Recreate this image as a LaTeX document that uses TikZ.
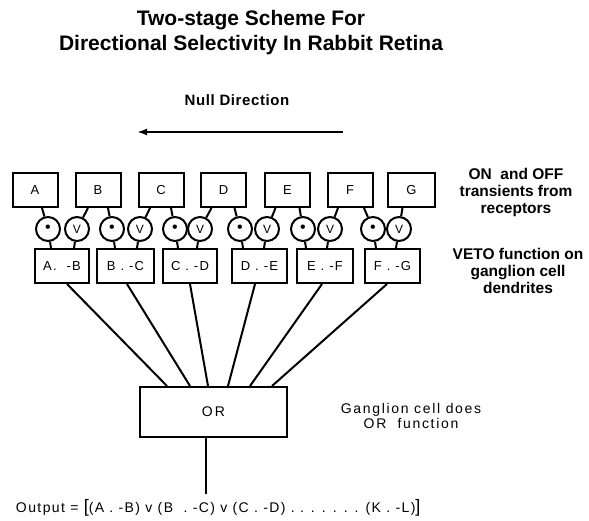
\documentclass[tikz,border=0pt]{standalone}
\usepackage{fontspec}
\setmainfont{Liberation Sans}
\usetikzlibrary{arrows.meta}
\begin{document}
\begin{tikzpicture}[x=1pt,y=-1pt,line width=2pt,
  topbox/.style={draw,line width=2pt,minimum width=45pt,minimum height=34pt,inner sep=0pt,font=\fontsize{13}{13}\selectfont},
  gate/.style={draw,line width=2pt,circle,minimum size=24pt,inner sep=0pt,font=\fontsize{12}{12}\selectfont},
  vetobox/.style={draw,line width=2pt,minimum width=55pt,minimum height=34pt,inner sep=0pt,font=\fontsize{13}{13}\selectfont\addfontfeature{LetterSpace=10}},
  orbox/.style={draw,line width=2pt,minimum width=147pt,minimum height=50pt,inner sep=0pt,font=\fontsize{14}{14}\selectfont\addfontfeature{LetterSpace=15}},
  lbl/.style={align=center,inner sep=0pt},
  wire/.style={line width=2pt}]
\useasboundingbox (0,0) rectangle (589,520);

% title
\node[lbl,font=\fontsize{21}{25}\selectfont\bfseries] (title) at (251,33)
  {Two-stage Scheme For\\Directional Selectivity In Rabbit Retina};

% null direction
\node[lbl,font=\fontsize{15}{15}\selectfont\bfseries\addfontfeature{LetterSpace=4}] (null) at (237,100) {Null Direction};
\coordinate (nr) at (343,132);
\coordinate (nl) at (137,132);
\draw[line width=2pt,-{Latex[length=10pt,width=7pt]}] (nr) -- (nl);

% top boxes
\node[topbox] (A) at (35,190) {A};
\node[topbox] (B) at (98,190) {B};
\node[topbox] (C) at (161,190) {C};
\node[topbox] (D) at (223.5,190) {D};
\node[topbox] (E) at (287.5,190) {E};
\node[topbox] (F) at (350,190) {F};
\node[topbox,minimum width=47pt] (G) at (411.5,190) {G};

% gates
\foreach \n/\dx/\vx in {1/48/77,2/112/140,3/175/200,4/240/267,5/303/330,6/373/399}{
  \node[gate] (d\n) at (\dx,229) {{\fontsize{16}{16}\selectfont\textbullet}};
  \node[gate] (v\n) at (\vx,229) {V};
}

% veto boxes
\node[vetobox,minimum width=54pt] (AB) at (62,266) {A.\ \ -B};
\node[vetobox,minimum width=57pt] (BC) at (125.5,266) {B . -C};
\node[vetobox,minimum width=54pt] (CD) at (190,266) {C . -D};
\node[vetobox] (DE) at (259.5,266) {D . -E};
\node[vetobox,minimum width=56pt] (EF) at (325,266) {E . -F};
\node[vetobox] (FG) at (392.5,266) {F . -G};

% top box to gates
\draw[wire] ([xshift=7pt]A.south) -- (d1);
\draw[wire] ([xshift=-10pt]B.south) -- (v1);
\draw[wire] ([xshift=10pt]B.south) -- (d2);
\draw[wire] ([xshift=-11pt]C.south) -- (v2);
\draw[wire] ([xshift=10pt]C.south) -- (d3);
\draw[wire] ([xshift=-12pt]D.south) -- (v3);
\draw[wire] ([xshift=11pt]D.south) -- (d4);
\draw[wire] ([xshift=-12pt]E.south) -- (v4);
\draw[wire] ([xshift=12pt]E.south) -- (d5);
\draw[wire] ([xshift=-12pt]F.south) -- (v5);
\draw[wire] ([xshift=14pt]F.south) -- (d6);
\draw[wire] ([xshift=-9pt]G.south) -- (v6);

% gates to veto boxes
\foreach \n/\b in {1/AB,2/BC,3/CD,4/DE,5/EF,6/FG}{
  \draw[wire] (d\n) -- ([xshift=3pt]d\n.center |- \b.north);
  \draw[wire] (v\n) -- ([xshift=-3pt]v\n.center |- \b.north);
}

% OR box
\node[orbox] (OR) at (213.5,412) {OR};

\draw[wire] ([xshift=5pt]AB.south) -- ([xshift=-46.5pt]OR.north);
\draw[wire] ([xshift=1.5pt]BC.south) -- ([xshift=-23.5pt]OR.north);
\draw[wire] ([xshift=0pt]CD.south) -- ([xshift=-5.5pt]OR.north);
\draw[wire] ([xshift=-4.5pt]DE.south) -- ([xshift=14.5pt]OR.north);
\draw[wire] ([xshift=-3pt]EF.south) -- ([xshift=36.5pt]OR.north);
\draw[wire] ([xshift=-5.5pt]FG.south) -- ([xshift=58.5pt]OR.north);

\coordinate (out) at (205.5,494);
\draw[wire] ([xshift=-8pt]OR.south) -- (out);

% side labels
\node[lbl,font=\fontsize{15.5}{17}\selectfont\bfseries] (lab1) at (516,192)
  {ON\ \ and OFF\\transients from\\receptors};
\node[lbl,font=\fontsize{15.5}{17}\selectfont\bfseries] (lab2) at (518,271)
  {VETO function on\\ganglion cell\\dendrites};
\node[lbl,font=\fontsize{14}{15}\selectfont\addfontfeature{LetterSpace=12}] (lab3) at (411,416)
  {Ganglion cell does\\OR\ \ function};

% output
\node[anchor=base west,inner sep=0pt,font=\fontsize{14}{14}\selectfont\addfontfeature{LetterSpace=10}] (outtxt) at (15,512)
  {Output = {\fontsize{18}{18}\selectfont[}(A . -B) v (B\ \ . -C) v (C . -D) . . . . . . . (K . -L){\fontsize{18}{18}\selectfont]}};
\end{tikzpicture}
\end{document}
